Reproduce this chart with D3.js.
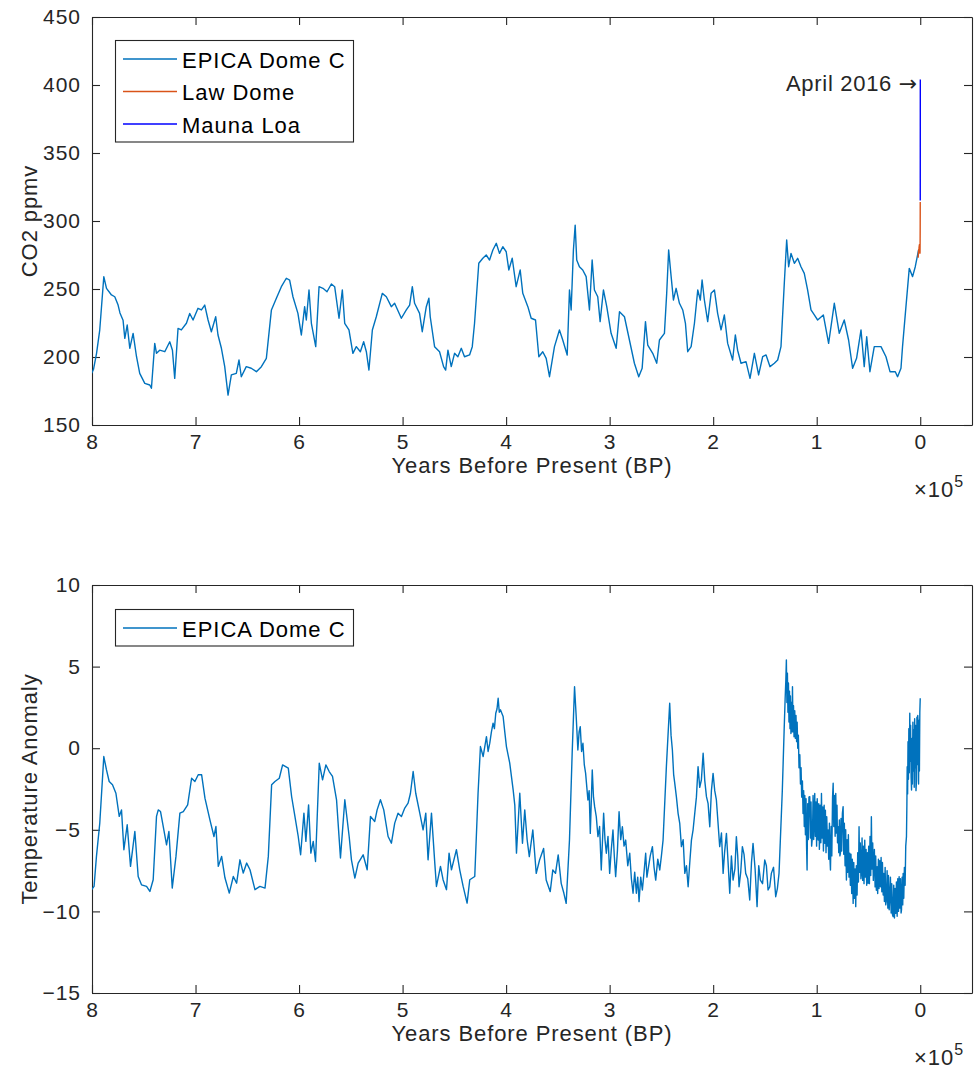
<!DOCTYPE html>
<html>
<head>
<meta charset="utf-8">
<script src="https://cdn.jsdelivr.net/npm/d3@7"></script>
<style>
  body { margin: 0; background: #fff; }
  text { font-family: "Liberation Sans", Arial, Helvetica, sans-serif; }
</style>
</head>
<body>
<svg id="fig" width="976" height="1072"></svg>
<script>
// ---- axis ticks ----
const xTickValues = [800000, 700000, 600000, 500000, 400000, 300000, 200000, 100000, 0];
const xTickLabels = ["8", "7", "6", "5", "4", "3", "2", "1", "0"];
const co2Ticks = [150, 200, 250, 300, 350, 400, 450];
const tempTicks = [-15, -10, -5, 0, 5, 10];

// ---- EPICA Dome C CO2 (age in kyr BP, ppmv) ----
const epicaCo2AgeKyr = [
  800.3, 798.5, 795.6, 792.5, 788.6, 786, 781.2, 778, 774.8, 773, 770, 768.3, 766, 763.5, 760.3, 757, 753.9,
  749, 744.2, 742.6, 739.4, 737.7, 734.6, 729.7, 724.9, 722.3, 720.1, 716.9, 713.7, 708.8, 705.6, 702.4,
  697.6, 694.3, 691.1, 687.9, 684.7, 680.5, 678.3, 675, 671.8, 668.6, 665.4, 660.6, 658, 655.8, 651,
  646.2, 641.2, 636.4, 631.6, 626.7, 621.9, 617.1, 612.3, 609.1, 605.9, 601.1, 597.8, 594.6, 593, 590.4,
  588.1, 583.9, 580.7, 576.9, 573, 568.8, 565.6, 561.4, 558.2, 555.9, 551.8, 548, 544.7, 540.8, 537.6,
  535, 532.5, 529.2, 525.4, 519.6, 515.7, 510.9, 507.7, 501.2, 496.4, 493.2, 490.6, 488.4, 483.6, 481,
  477.1, 474.6, 473.3, 469.1, 464.3, 460.4, 458.4, 456.2, 453, 449.8, 446.6, 443.3, 440.2, 435.3, 432.7,
  430.5, 426.4, 422.5, 419.2, 416, 412.8, 409.5, 406.4, 403.2, 399.9, 397.4, 394.1, 390.3, 386.4, 383.9,
  379, 375.8, 371.6, 368.4, 364.6, 361.3, 358.1, 354.9, 353.3, 348.5, 345.3, 341, 338.8, 337.2, 335,
  333.3, 331.8, 329.2, 326, 322.7, 319.5, 316.9, 314.7, 311.5, 309.2, 306, 302.8, 298.6, 293.7, 290.5,
  285.7, 280.9, 276.1, 271.9, 268.6, 265.4, 263.2, 258.4, 254.5, 251.9, 247.1, 244.9, 243, 240.6, 238.4,
  235.8, 232.6, 229.4, 226.8, 224.6, 221.3, 218.1, 214.9, 212.4, 210.7, 208.5, 205.3, 202, 198.8, 195.7,
  192.4, 189.2, 186, 181.2, 178.6, 176.4, 173.1, 168.3, 164.4, 160.2, 156.1, 152.2, 148.9, 145.1, 140.9,
  137.7, 134.5, 131.3, 129, 127.1, 124.8, 121.6, 118.4, 115.2, 112, 108.8, 105.5, 102.3, 99.1, 93.6,
  88.5, 83, 78.2, 73.4, 69.2, 65.3, 61.5, 57.2, 54.1, 51.7, 48.6, 44.4, 37.9, 33.1, 29.2, 24.1, 21.9,
  18.6, 17.1, 13.8, 10.6, 7.4, 4.8, 1.6
];
const epicaCo2Ppmv = [
  188, 191, 202.7, 220, 259, 250.5, 245.6, 244.3, 238.2, 232.4, 227, 213.7, 223.5, 206.4, 217.4, 200.2, 188,
  180.6, 179.4, 177, 210, 202.7, 205, 203.9, 211.2, 205, 184.3, 221, 219.9, 224.8, 232, 227.2,
  235.8, 234.6, 238.2, 227.2, 218.6, 229.6, 216.2, 206.4, 192.9, 172, 186.8, 188, 197.8, 185.5, 192.9,
  191.7, 189.2, 192.9, 199, 234.6, 243.2, 251.7, 257.9, 256.6, 244.3, 232.1, 216.2, 237, 227.2, 249.3,
  224.8, 207.6, 251.7, 250.5, 248, 253.7, 251.7, 228.5, 249.3, 224.8, 219.9, 202.7, 207.6, 203.9, 211.2,
  203.9, 190.4, 219.9, 229.6, 246.8, 244.3, 237, 239.5, 228.5, 234.6, 238.2, 251.7, 239.5, 232.1, 218.6,
  237, 243.2, 229.6, 207.6, 203.9, 192.9, 190.4, 205, 192.9, 202.7, 200.2, 206.4, 200.2, 201.5, 207.6,
  224.8, 268.9, 272.6, 275, 271.3, 278.7, 283.6, 276.2, 281.1, 277.4, 264, 272.6, 251.7, 264, 246.8,
  237, 228.5, 227.2, 200.2, 203.9, 199, 185.5, 200.2, 207.6, 219.9, 212.5, 201.5, 249.3, 234.6, 278.7,
  297, 271.3, 266.4, 264, 259.1, 234.6, 271.3, 249.3, 244.3, 226, 249.3, 237, 217.4, 206.4, 233.3,
  229.6, 212.5, 195.4, 185.5, 191.7, 226, 208.8, 202.7, 195.4, 212.5, 217.4, 246.8, 278.7, 259.1, 241.9,
  250.5, 239.5, 234.6, 224.8, 203.9, 207.6, 224.8, 249.3, 241.9, 256.6, 241.9, 226, 246.8, 249.3, 232.1,
  219.9, 230.9, 210, 197.8, 216.2, 205, 195.4, 196.6, 184.3, 202.7, 186.8, 200.2, 201.5, 192.9, 195.4,
  197.8, 207.6, 254.2, 286, 266.4, 276.2, 268.9, 272.6, 266.4, 261.5, 249.3, 234.6, 230.9, 227.2, 230.9,
  210, 239.5, 217.4, 227.2, 212.5, 191.7, 199, 219.9, 192.9, 214.9, 189.2, 207.6, 207.6, 200.2, 189.2, 189.2, 185.5,
  191.7, 207.6, 237, 265.2, 259.1, 266.4, 278.7
];

// ---- Law Dome CO2 (years BP, ppmv) ----
const lawDomeAge = [2000, 1600, 1200, 900, 600, 400, 300, 200, 130, 100, 60, 30, 10, 0, -8];
const lawDomePpmv = [273, 278, 280, 282, 283, 280, 276, 277, 284, 287, 293, 301, 307, 311, 314];

// ---- Mauna Loa CO2 (years BP, ppmv) ----
const maunaLoaAge = [-8, -15, -20, -25, -30, -35, -40, -45, -50, -55, -60, -65, -66.3];
const maunaLoaPpmv = [315, 320, 325.7, 331, 338.7, 346, 354, 361, 369.5, 379.8, 389.9, 400.8, 404];

// ---- EPICA Dome C temperature anomaly: [age kyr BP, deg C] ----
const epicaTemp = [
  [800.5, -8.67], [798, -8.47], [795.7, -6.63], [792.5, -4.6], [788.6, -0.51], [786, -1.33], [783.4, -2.04],
  [780.2, -2.24], [776.9, -2.76], [773.7, -4.18], [771.5, -3.78], [769.2, -6.22], [766, -4.69], [762.8, -7.24],
  [758.6, -5.1], [755.4, -7.86], [752.2, -8.37], [747.3, -8.47], [744.1, -8.78], [740.9, -8.06], [737.7, -4.18],
  [736, -3.78], [733.8, -3.88], [730.6, -5], [728, -5.92], [725.7, -5.1], [722.5, -8.57], [718.9, -6.63],
  [715.1, -3.98], [711.8, -3.88], [707.6, -3.47], [703.8, -1.84], [700.6, -2.04], [697.4, -1.63], [694.1, -1.63],
  [690.9, -3.06], [686.1, -4.39], [682.2, -5.41], [680.3, -4.8], [678, -7.24], [674.8, -6.63], [671.6, -7.94],
  [667.4, -8.88], [663.5, -7.86], [660.3, -8.27], [657.1, -6.84], [653.9, -7.65], [650.6, -7.04], [647.4, -7.45],
  [642.6, -8.67], [637.8, -8.47], [632.9, -8.57], [629.7, -6.63], [626.5, -2.24], [623.3, -2.04], [619.1, -1.84],
  [615.9, -1.02], [610.4, -1.22], [607.2, -2.96], [604, -4.18], [600.8, -5.41], [598.5, -6.53], [595.3, -3.98],
  [593.4, -5.71], [590.8, -3.47], [588.6, -6.43], [586.3, -5.71], [584.1, -6.94], [580.5, -0.92], [577.3, -1.94],
  [574.1, -1.02], [570.9, -1.43], [567.7, -1.73], [563.8, -3.16], [560, -6.73], [555.8, -3.16], [551.6, -5.41],
  [549.4, -6.84], [546.1, -7.96], [542.9, -7.04], [538.1, -6.53], [534.2, -7.45], [531, -4.18], [526.9, -4.49],
  [524.6, -3.78], [521.4, -3.16], [518.2, -3.78], [514, -5.41], [510.8, -5.82], [507.6, -4.59], [504.4, -3.98],
  [501.1, -4.18], [497.9, -3.67], [494.7, -3.37], [492.4, -2.76], [489.8, -1.43], [487.3, -2.76], [483.4, -3.98],
  [480.2, -5], [477.6, -3.98], [475.4, -6.84], [472.1, -3.98], [468.9, -7.04], [467.3, -8.47], [463.4, -7.24],
  [460.9, -8.06], [457.6, -8.67], [455.1, -6.43], [452.8, -7.45], [449.6, -6.63], [448, -6.22], [444.8, -7.45],
  [441.5, -8.47], [437.7, -9.49], [435.1, -8.06], [430.3, -7.86], [427.1, -2.76], [424.8, 0.1], [422.2, -0.51],
  [419, 0.71], [417.4, -0.2], [415.8, 0.31], [414.2, 1.0], [412.6, 1.53], [411.3, 1.2], [410, 2.14],
  [408.8, 2.4], [407.7, 3.06], [406.6, 2.2], [405.5, 2.35], [402.9, 1.94], [401.3, 1.0], [399.7, 0.1],
  [396.5, -0.92], [393.2, -2.55], [391.6, -3.5], [390, -6.43], [386.8, -2.76], [384.2, -5.82], [382, -3.78],
  [379.7, -5.61], [377.6, -6.64], [374.2, -5.01], [370.9, -7.67], [367.7, -6.85], [363.8, -6.14], [361.3, -8.08],
  [357.4, -8.79], [354.9, -7.46], [352.3, -7.67], [349.7, -6.54], [346.8, -8.28], [344.2, -8.89],
  [342, -9.51], [338.8, -5.63], [336.2, -0.31], [333.9, 3.77], [332.3, 1.93], [330.7, -0.11], [329.5, 1.0],
  [328.4, 1.32], [327.1, -0.2], [325.8, 0.3], [324.5, -1.0], [323.2, -1.54], [321, -3.17], [319.8, -2.6],
  [318.7, -5.22], [316.8, -1.34], [315.6, -3.0], [314.5, -3.58], [312.9, -4.2], [311.3, -5.42], [309.7, -4.8],
  [308.1, -7.46], [305.8, -3.99], [304.5, -5.6], [303.2, -6.44], [301.6, -5.4], [300, -7.67], [298.4, -6.2],
  [296.8, -5.01], [295.5, -6.6], [294.2, -7.87], [292.5, -6.3], [290.9, -3.89], [289.3, -5.6], [287.7, -4.81],
  [286.1, -6.0], [284.5, -5.63], [282.5, -7.2], [280.6, -6.44], [279, -8.0], [277.4, -8.89], [275.8, -7.6],
  [274.2, -8.89], [272.9, -7.9], [271.6, -9.4], [270, -7.9], [268.4, -8.69], [266.8, -7.6], [265.2, -6.44],
  [264, -7.9], [262.9, -7.46], [260.8, -6.6], [258.7, -6.03], [257.1, -7.3], [255.5, -8.08], [253.5, -6.8],
  [251.6, -7.46], [250, -6.6], [248.4, -5.63], [245.2, -1.13], [242, 2.75], [240.7, 0.8], [239.4, -0.11],
  [238.2, -1.6], [237.1, -2.15], [235.5, -3.0], [233.9, -3.99], [232.3, -4.6], [230.7, -6.03], [229, -5.6],
  [227.4, -7.67], [225.8, -7.2], [224.2, -8.49], [222.6, -7.0], [221, -5.63], [219.4, -5.0], [217.8, -3.99],
  [216.2, -3.0], [214.6, -1.13], [213, -2.4], [211.4, -1.95], [209.7, -0.31], [208.1, -2.0], [206.5, -2.97],
  [204.9, -3.4], [203.3, -4.81], [201.7, -2.6], [200.1, -1.54], [198.5, -2.6], [196.9, -3.17], [195.3, -4.6],
  [193.7, -6.03], [192, -5.2], [190.4, -7.67], [189, -6.4], [187.2, -5.22], [185.6, -7.0], [184, -8.89],
  [182.4, -6.6], [180.8, -8.08], [179, -7.4], [177.6, -5.42], [176.3, -6.6], [175, -8.49], [173.4, -7.6],
  [171.8, -6.03], [170.2, -6.5], [168.6, -7.67], [166.6, -8.0], [164.7, -9.3], [163, -7.0], [161.5, -5.83],
  [159.5, -7.4], [157.6, -9.71], [156, -7.2], [154.4, -8.08], [152.3, -8.3], [150.2, -6.85], [148.6, -7.2],
  [147, -8.69], [145.4, -8.5], [143.8, -7.67], [141.7, -7.3], [139.6, -9.1], [138, -8.6], [136.4, -7.67],
  [133.2, -2.56], [131.5, 1], [130.5, 3], [129.8, 4.2], [129.3, 5.4], [128.8, 2.8], [128.3, 4.6], [127.8, 2.2],
  [127.3, 4], [126.8, 1.6], [126.3, 3.5], [125.8, 1.2], [125.4, 3.2], [124.9, 0.9], [124.4, 2.8], [123.9, 1],
  [123.4, 3.77], [122.9, 1], [122.4, 2.6], [121.9, 0.7], [121.2, 2.3], [120.6, 0.6], [120, 2], [119.4, 0.4],
  [118.9, 1.6], [118.3, 0], [117.7, 0.8], [117.1, -1.2], [116.3, -0.4], [115.7, -2.2], [115.1, -1.2], [114.5, -3],
  [113.8, -2], [113.2, -4], [112.6, -2.6], [112, -4.8], [111.5, -2.9], [110.9, -5.3], [110.3, -3.1], [109.8, -6],
  [109.3, -7.46], [108.7, -3.4], [108.1, -5.6], [107.5, -3], [106.7, -2.97], [106.1, -5.5], [105.5, -3.3],
  [104.9, -6], [104.1, -5.42], [103.5, -2.9], [102.9, -5.6], [101.9, -2.77], [101.3, -5.4], [100.7, -3.3],
  [100.1, -6], [99.5, -3.1], [98.6, -5.63], [98, -3.4], [97.4, -6.2], [96.7, -3.5], [96, -5.8], [95.4, -2.77],
  [94.8, -5.5], [94.1, -3.6], [93.5, -6.3], [92.8, -3.5], [92.2, -5.83], [91.6, -3.8], [91, -6.4], [90.3, -4.2],
  [89.6, -6], [89, -5.01], [88.4, -6.8], [87.7, -4.6], [87.1, -6.9], [86.7, -7.46], [86, -4.8], [85.4, -6.6],
  [84.7, -3], [84.1, -2.15], [83.5, -4.8], [82.8, -2.9], [82.2, -5.4], [81.6, -2.77], [81, -5.2], [80.4, -3.5],
  [79.9, -5.8], [79.3, -4.81], [78.7, -6.4], [78.1, -4.4], [77.6, -6.6], [77.1, -6.44], [76.5, -4.3],
  [75.9, -6.3], [75.2, -4], [74.5, -3.58], [73.9, -6.5], [73.3, -4.6], [72.6, -7.2], [72, -5], [71.3, -8.08],
  [70.7, -5.6], [70.1, -7.6], [69.4, -5.3], [68.8, -7.9], [68.1, -6.44], [67.5, -8.4], [66.9, -6.5], [66.2, -8.9],
  [65.6, -6.8], [64.8, -9.51], [64.2, -7], [63.6, -9.2], [62.9, -7.4], [62.3, -9.71], [61.7, -7.2], [61, -9],
  [60.4, -6.4], [59.7, -8.2], [59.1, -4.81], [58.5, -7.6], [57.9, -5.8], [57.3, -8], [56.8, -7.67], [56.2, -5.5],
  [55.6, -8.1], [54.9, -6], [54.3, -8.3], [53.6, -5.63], [53, -7.9], [52.3, -6.2], [51.7, -8.4], [51, -6.4],
  [50.4, -8.28], [49.8, -6], [49.1, -8.3], [48.5, -5.4], [47.8, -7.8], [47.2, -4.2], [46.6, -7.4], [45.9, -5.8],
  [45.3, -8.1], [44.9, -7.26], [44.3, -6.2], [43.6, -8.5], [43, -6.6], [42.4, -8.7], [41.7, -7.26], [41.1, -8.9],
  [40.4, -6.8], [39.8, -8.6], [39.1, -6.9], [38.4, -8.49], [37.8, -6.7], [37.1, -8.8], [36.5, -7], [35.8, -9],
  [35.2, -7.67], [34.6, -9.4], [33.9, -7.3], [33.3, -9.6], [32.6, -9.3], [32, -7.5], [31.3, -9.8], [30.7, -7.8],
  [30, -9.9], [29.4, -9.1], [28.8, -7.9], [28.1, -10.1], [27.5, -8.3], [26.8, -10.2], [26.2, -10.32], [25.6, -8.4],
  [24.9, -10.4], [24.3, -8.6], [23.6, -10.12], [23, -8.2], [22.3, -10.3], [21.7, -8], [21, -10], [20.4, -7.87],
  [19.8, -9.8], [19.1, -8], [18.5, -10.1], [18.1, -9.91], [17.5, -7.9], [16.9, -9.6], [16.5, -7.67], [15.9, -9.2],
  [15.3, -7.3], [14.6, -8.4], [14, -6], [13.3, -5.42], [12.9, -3.5], [12.6, -1.13], [12.2, -2.8], [11.8, 0.4],
  [11.4, -1.9], [11, 1.2], [10.6, -1.5], [10.1, 2.14], [9.7, -0.8], [9.3, 1.4], [8.8, -1.8], [8.4, -2.56],
  [8, 0.6], [7.6, -2.2], [7.1, 1.6], [6.7, -1.4], [6.2, 1.12], [5.8, -2.4], [5.4, 1.8], [4.9, -1.2], [4.5, 1.4],
  [4.1, -2.6], [3.6, -1.95], [3.2, 1.9], [2.8, -1], [2.4, 2], [2, 1.52], [1.6, -2.2], [1.2, 1.7], [0.8, -1.4],
  [0.4, 2.2], [0, 3.06]
];

// ---- layout ----
const svg = d3.select("#fig");
const W = 976, H = 1072;
svg.append("rect").attr("width", W).attr("height", H).attr("fill", "#fff");

const plotLeft = 92, plotRight = 972;
const axisColor = "#262626";
const epicaColor = "#0072BD", lawColor = "#D95319", maunaColor = "#0000FF";
const fontFamily = '"Liberation Sans", Arial, Helvetica, sans-serif';

const x = d3.scaleLinear().domain([800000, -50000]).range([plotLeft, plotRight]);

function drawFrame(top, bottom, y, yTicks, yLabel, clipId) {
  const g = svg.append("g");
  const xAxisB = d3.axisBottom(x).tickValues(xTickValues)
    .tickFormat((d, i) => xTickLabels[i]).tickSizeInner(-8).tickSizeOuter(0).tickPadding(9);
  const xAxisT = d3.axisTop(x).tickValues(xTickValues).tickFormat("").tickSizeInner(-8).tickSizeOuter(0);
  const yAxisL = d3.axisLeft(y).tickValues(yTicks).tickFormat(d3.format("d"))
    .tickSizeInner(-8).tickSizeOuter(0).tickPadding(11);
  const yAxisR = d3.axisRight(y).tickValues(yTicks).tickFormat("").tickSizeInner(-8).tickSizeOuter(0);

  g.append("g").attr("transform", `translate(0,${bottom})`).call(xAxisB);
  g.append("g").attr("transform", `translate(0,${top})`).call(xAxisT);
  g.append("g").attr("transform", `translate(${plotLeft},0)`).call(yAxisL);
  g.append("g").attr("transform", `translate(${plotRight},0)`).call(yAxisR);

  g.selectAll(".domain, .tick line").attr("stroke", axisColor).attr("stroke-width", 1.1);
  g.selectAll(".tick text").attr("fill", axisColor).attr("font-size", 21)
    .attr("letter-spacing", 1).attr("font-family", fontFamily);

  // x-axis title
  g.append("text").attr("x", (plotLeft + plotRight) / 2).attr("y", bottom + 48)
    .attr("text-anchor", "middle").attr("font-size", 22).attr("letter-spacing", 0.9)
    .attr("fill", axisColor).text("Years Before Present (BP)");
  // shared exponent of the x tick labels
  const ex = g.append("text").attr("x", 914).attr("y", bottom + 72)
    .attr("font-size", 22).attr("letter-spacing", 1).attr("fill", axisColor);
  ex.append("tspan").text("\u00d710");
  ex.append("tspan").attr("dy", -10).attr("font-size", 16).text("5");
  // y-axis title
  g.append("text").attr("transform", `translate(37,${(top + bottom) / 2}) rotate(-90)`)
    .attr("text-anchor", "middle").attr("font-size", 22).attr("letter-spacing", 0.9)
    .attr("fill", axisColor).text(yLabel);

  svg.append("clipPath").attr("id", clipId).append("rect")
    .attr("x", plotLeft).attr("y", top).attr("width", plotRight - plotLeft).attr("height", bottom - top);
  return g;
}

function legend(top, entries) {
  const lx = 115, lw = 238, rowH = 32.5;
  const h = entries.length * rowH + 4;
  const g = svg.append("g");
  g.append("rect").attr("x", lx + 0.5).attr("y", top + 0.5).attr("width", lw).attr("height", h)
    .attr("fill", "#fff").attr("stroke", axisColor).attr("stroke-width", 1.1);
  entries.forEach((e, i) => {
    const cy = top + 19 + i * rowH;
    g.append("line").attr("x1", 123).attr("x2", 177).attr("y1", cy).attr("y2", cy)
      .attr("stroke", e.color).attr("stroke-width", 1.4);
    g.append("text").attr("x", 182).attr("y", cy + 1).attr("dominant-baseline", "central")
      .attr("font-size", 22).attr("letter-spacing", 1).attr("fill", "#000").text(e.label);
  });
}

// ---- CO2 panel ----
const topA = 17, botA = 425;
const yA = d3.scaleLinear().domain([150, 450]).range([botA, topA]);
drawFrame(topA, botA, yA, co2Ticks, "CO2 ppmv", "clipA");

const lineA = (ages, vals, mult) => d3.line()
  .x((d, i) => x(ages[i] * mult)).y((d, i) => yA(vals[i]))(vals);

const plotA = svg.append("g").attr("clip-path", "url(#clipA)");
plotA.append("path").attr("d", lineA(epicaCo2AgeKyr, epicaCo2Ppmv, 1000))
  .attr("fill", "none").attr("stroke", epicaColor).attr("stroke-width", 1.4).attr("stroke-linejoin", "round");
plotA.append("path").attr("d", lineA(lawDomeAge, lawDomePpmv, 1))
  .attr("fill", "none").attr("stroke", lawColor).attr("stroke-width", 1.4);
plotA.append("path").attr("d", lineA(maunaLoaAge, maunaLoaPpmv, 1))
  .attr("fill", "none").attr("stroke", maunaColor).attr("stroke-width", 1.4);

// label at the latest Mauna Loa reading
const lastIdx = maunaLoaAge.length - 1;
const note = svg.append("text")
  .attr("x", x(maunaLoaAge[lastIdx]) - 3).attr("y", yA(maunaLoaPpmv[lastIdx]) + 3)
  .attr("text-anchor", "end").attr("dominant-baseline", "central")
  .attr("font-size", 22).attr("fill", axisColor);
note.append("tspan").attr("letter-spacing", 0.7).text("April 2016 ");
note.append("tspan").attr("font-family", '"DejaVu Sans", sans-serif').attr("font-size", 22).text("\u2192");

legend(40, [
  { label: "EPICA Dome C", color: epicaColor },
  { label: "Law Dome", color: lawColor },
  { label: "Mauna Loa", color: maunaColor }
]);

// ---- temperature panel ----
const topB = 585, botB = 993;
const yB = d3.scaleLinear().domain([-15, 10]).range([botB, topB]);
drawFrame(topB, botB, yB, tempTicks, "Temperature Anomaly", "clipB");

const plotB = svg.append("g").attr("clip-path", "url(#clipB)");
plotB.append("path")
  .attr("d", d3.line().x(d => x(d[0] * 1000)).y(d => yB(d[1]))(epicaTemp))
  .attr("fill", "none").attr("stroke", epicaColor).attr("stroke-width", 1.4).attr("stroke-linejoin", "round");

legend(609, [{ label: "EPICA Dome C", color: epicaColor }]);
</script>
</body>
</html>
